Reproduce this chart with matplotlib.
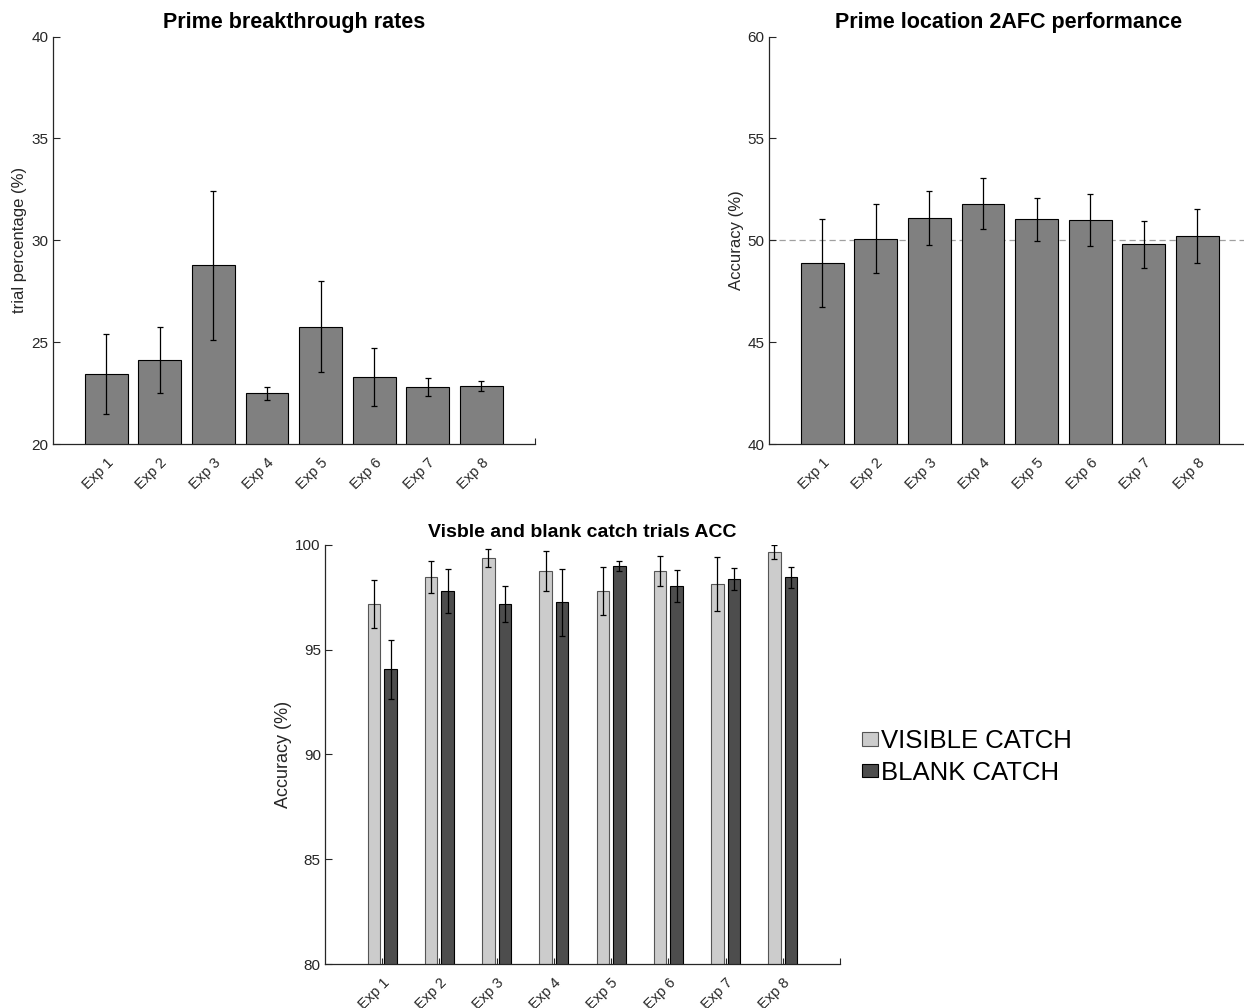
import matplotlib
matplotlib.use("Agg")
import matplotlib.pyplot as plt
import numpy as np
from matplotlib.patches import Patch

plt.rcParams['font.family'] = ['Liberation Sans', 'DejaVu Sans']

experiments = ["Exp 1", "Exp 2", "Exp 3", "Exp 4", "Exp 5", "Exp 6", "Exp 7", "Exp 8"]

breakthrough_mean = [23.43, 24.10, 28.77, 22.49, 25.76, 23.29, 22.80, 22.83]
breakthrough_err = [1.97, 1.62, 3.65, 0.33, 2.25, 1.43, 0.43, 0.24]

loc2afc_mean = [48.87, 50.08, 51.08, 51.80, 51.03, 51.00, 49.80, 50.20]
loc2afc_err = [2.17, 1.70, 1.32, 1.26, 1.06, 1.29, 1.15, 1.33]

visible_mean = [97.20, 98.46, 99.40, 98.76, 97.82, 98.76, 98.12, 99.68]
visible_err = [1.15, 0.76, 0.43, 0.97, 1.14, 0.73, 1.29, 0.33]
blank_mean = [94.07, 97.82, 97.17, 97.26, 98.98, 98.06, 98.36, 98.46]
blank_err = [1.40, 1.05, 0.85, 1.60, 0.24, 0.77, 0.52, 0.50]

W, H = 1244, 1008
fig = plt.figure(figsize=(W / 100, H / 100), dpi=100)

AXC = '#262626'
TICK_FS = 10.5


def style(ax, ylim, yticks, ylabel, title, title_fs, label_fs, label_x_px, axis_x_px):
    ax.set_xlim(0, 9)
    ax.set_ylim(*ylim)
    ax.set_yticks(yticks)
    ax.set_xticks(np.arange(1, 9))
    ax.set_xticks([9], minor=True)
    ax.set_xticklabels(experiments, rotation=45, ha='right', va='top',
                       rotation_mode='anchor', fontsize=TICK_FS, color=AXC)
    ax.tick_params(axis='x', which='both', direction='in', length=4, width=0.8,
                   colors=AXC, pad=8)
    ax.tick_params(axis='y', direction='in', length=5, width=0.8, colors=AXC,
                   labelsize=TICK_FS + 0.5, pad=3)
    for s in ['top', 'right']:
        ax.spines[s].set_visible(False)
    for s in ['left', 'bottom']:
        ax.spines[s].set_color(AXC)
        ax.spines[s].set_linewidth(0.9)
    ax.set_ylabel(ylabel, fontsize=label_fs, color=AXC, va='center')
    bb = ax.get_position()
    ax_w_px = bb.width * W
    ax.yaxis.set_label_coords((label_x_px - axis_x_px) / ax_w_px, 0.5)
    ax.set_title(title, fontsize=title_fs, fontweight='bold', pad=6)


x = np.arange(1, 9)
err_kw = dict(ecolor='black', elinewidth=0.9, capsize=2, capthick=0.9)

# Top-left
ax1 = fig.add_axes([52.7 / W, 1 - 444 / H, (535 - 52.7) / W, (444 - 36.5) / H])
ax1.bar(x, breakthrough_mean, width=0.8, color='#808080', edgecolor='black',
        linewidth=0.8, zorder=2)
ax1.errorbar(x, breakthrough_mean, yerr=breakthrough_err, fmt='none', zorder=3, **err_kw)
style(ax1, (20, 40), [20, 25, 30, 35, 40], 'trial percentage (%)', 'Prime breakthrough rates',
      15.5, 12, 20, 52.7)

# Top-right
ax2 = fig.add_axes([768.7 / W, 1 - 444 / H, (535 - 52.7) / W, (444 - 36.5) / H])
ax2.axhline(50, color='#a0a0a0', linestyle=(0, (5, 3)), linewidth=0.9, zorder=1)
ax2.bar(x, loc2afc_mean, width=0.8, color='#808080', edgecolor='black',
        linewidth=0.8, zorder=2)
ax2.errorbar(x, loc2afc_mean, yerr=loc2afc_err, fmt='none', zorder=3, **err_kw)
style(ax2, (40, 60), [40, 45, 50, 55, 60], 'Accuracy (%)', 'Prime location 2AFC performance',
      15.5, 12, 736, 768.7)
ax2.title.set_x((1009 - 768.7) / (535 - 52.7))

# Bottom
ax3 = fig.add_axes([325 / W, 1 - 964 / H, (840 - 325) / W, (964 - 545) / H])
off = 0.145
bw = 0.22
ax3.bar(x - off, visible_mean, width=bw, color='#cccccc', edgecolor='#555555',
        linewidth=0.8, zorder=2, label='VISIBLE CATCH')
ax3.bar(x + off, blank_mean, width=bw, color='#4d4d4d', edgecolor='black',
        linewidth=0.8, zorder=2, label='BLANK CATCH')
ax3.errorbar(x - off, visible_mean, yerr=visible_err, fmt='none', zorder=3, **err_kw)
ax3.errorbar(x + off, blank_mean, yerr=blank_err, fmt='none', zorder=3, **err_kw)
style(ax3, (80, 100), [80, 85, 90, 95, 100], 'Accuracy (%)', 'Visble and blank catch trials ACC',
      14, 13, 283, 325)

handles = [Patch(facecolor='#cccccc', edgecolor='#555555', linewidth=0.8),
           Patch(facecolor='#4d4d4d', edgecolor='black', linewidth=0.8)]
fig.legend(handles, ['VISIBLE CATCH', 'BLANK CATCH'], loc='upper left',
           bbox_to_anchor=(862 / W, 1 - 729 / H), frameon=False, fontsize=18.5,
           handlelength=0.62, handleheight=0.45, handletextpad=0.12,
           labelspacing=0.3, borderpad=0, borderaxespad=0)

fig.savefig('out.png', dpi=100, facecolor='white')
